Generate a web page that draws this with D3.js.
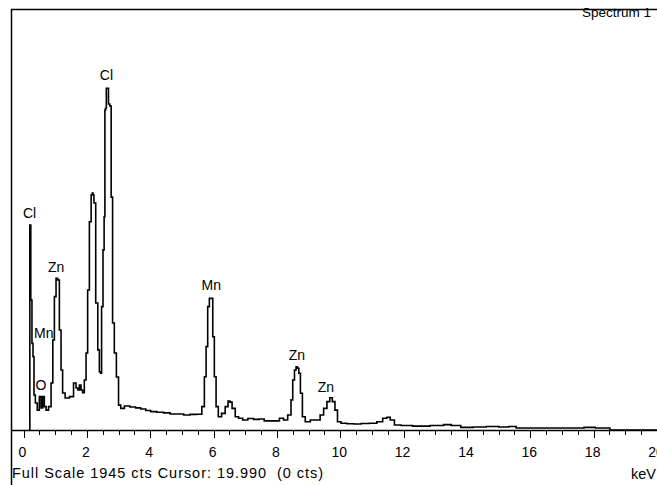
<!DOCTYPE html>
<html>
<head>
<meta charset="utf-8">
<script src="https://cdn.jsdelivr.net/npm/d3@7"></script>
<style>
  body { margin: 0; background: #fff; }
  svg { display: block; }
  text { font-family: "Liberation Sans", Arial, sans-serif; fill: #000; }
</style>
</head>
<body>
<svg></svg>
<script>
// spectrum: energy (keV) and counts
var energies = [0.19, 0.21, 0.25, 0.284, 0.316, 0.347, 0.40, 0.47, 0.53, 0.58, 0.63, 0.685, 0.74, 0.84, 0.90, 0.95, 1.00, 1.055, 1.105, 1.16, 1.21, 1.26, 1.37, 1.53, 1.63, 1.69, 1.74, 1.79, 1.84, 1.89, 1.95, 2.00, 2.05, 2.11, 2.16, 2.18, 2.21, 2.24, 2.32, 2.37, 2.42, 2.44, 2.49, 2.53, 2.56, 2.58, 2.60, 2.63, 2.665, 2.70, 2.75, 2.785, 2.84, 2.895, 2.97, 3.03, 3.11, 3.26, 3.46, 3.62, 3.78, 3.94, 4.09, 4.32, 4.53, 4.73, 4.95, 5.16, 5.36, 5.58, 5.68, 5.74, 5.79, 5.84, 5.895, 5.95, 6.00, 6.05, 6.11, 6.19, 6.315, 6.42, 6.495, 6.54, 6.63, 6.74, 6.84, 7.00, 7.16, 7.37, 7.51, 7.69, 8.00, 8.16, 8.26, 8.42, 8.47, 8.53, 8.58, 8.63, 8.67, 8.715, 8.77, 8.84, 8.95, 9.16, 9.31, 9.42, 9.53, 9.63, 9.71, 9.79, 9.875, 9.95, 10.10, 10.32, 10.53, 10.79, 11.05, 11.26, 11.42, 11.525, 11.63, 11.79, 12.05, 12.52, 13.15, 13.38, 13.63, 13.98, 14.42, 14.80, 15.21, 15.43, 15.68, 16.63, 17.51, 17.89, 18.21, 18.43, 18.59, 20.0];
var counts = [0, 947, 600, 400, 339, 162, 125, 92, 154, 102, 154, 108, 92, 108, 217, 416, 616, 701, 693, 462, 277, 171, 148, 154, 217, 194, 185, 208, 185, 172, 231, 356, 647, 962, 1086, 1095, 1086, 1049, 587, 370, 269, 262, 570, 832, 985, 1478, 1486, 1579, 1579, 1506, 1497, 1076, 494, 356, 245, 115, 100, 111, 106, 102, 97, 90, 85, 82, 79, 74, 74, 69, 72, 73, 108, 246, 385, 570, 608, 608, 431, 246, 108, 61, 77, 108, 134, 129, 100, 61, 54, 46, 53, 49, 51, 42, 42, 54, 46, 69, 139, 231, 277, 292, 285, 262, 170, 61, 38, 46, 46, 69, 100, 131, 149, 131, 92, 38, 31, 29, 28, 30, 31, 38, 54, 59, 46, 23, 21, 18, 21, 25, 21, 12, 14, 16, 14, 16, 9, 9, 9, 12, 9, 9, 0, 0];

// element markers: name, energy, height (cts) of the label
var peakNames = ["Cl", "Mn", "O", "Zn", "Cl", "Mn", "Zn", "Zn"];
var peakEnergies = [0.19, 0.64, 0.55, 1.03, 2.62, 5.93, 8.63, 9.55];
var peakLabelCounts = [979, 425, 185, 730, 1617, 647, 323, 175];

var xTicks = [0, 2, 4, 6, 8, 10, 12, 14, 16, 18, 20];
var fullScale = 1945;
var footerText = "Full Scale 1945 cts Cursor: 19.990  (0 cts)";
var titleText = "Spectrum 1";
var unitText = "keV";

var svgWidth = 657;
var svgHeight = 485;
var svg = d3.select("svg").attr("width", svgWidth).attr("height", svgHeight);

var data = energies.map(function (e, i) { return [e, counts[i]]; });

var xScale = d3.scaleLinear().domain([0, 20]).range([23.5, 657]);
var yScale = d3.scaleLinear().domain([0, fullScale]).range([430, 9]);

// frame
svg.append("path")
  .attr("d", "M11.5,490 V9.5 H660")
  .attr("fill", "none")
  .attr("stroke", "#000")
  .attr("stroke-width", 1.5);

// axis with major + minor ticks
var minorTicks = d3.range(0, 20.01, 0.5);
var axisG = svg.append("g").attr("transform", "translate(0," + yScale(0) + ")");
axisG.append("line")
  .attr("x1", 11).attr("x2", svgWidth)
  .attr("y1", 0.5).attr("y2", 0.5)
  .attr("stroke", "#000").attr("stroke-width", 1.5);
axisG.selectAll(".minor")
  .data(minorTicks)
  .enter().append("line")
  .attr("class", "minor")
  .attr("x1", function (d) { return Math.round(xScale(d)) + 0.5; })
  .attr("x2", function (d) { return Math.round(xScale(d)) + 0.5; })
  .attr("y1", 0)
  .attr("y2", function (d) { return d % 2 === 0 ? 8 : 5; })
  .attr("stroke", "#000");
axisG.selectAll(".tlabel")
  .data(xTicks)
  .enter().append("text")
  .attr("class", "tlabel")
  .attr("x", function (d) { return xScale(d) - 1; })
  .attr("y", 27)
  .attr("text-anchor", "middle")
  .style("font-size", "14px")
  .text(function (d) { return d; });

// spectrum trace
var line = d3.line()
  .x(function (d) { return xScale(d[0]); })
  .y(function (d) { return yScale(d[1]); })
  .curve(d3.curveStep);

svg.append("path")
  .datum(data)
  .attr("d", line)
  .attr("fill", "none")
  .attr("stroke", "#000")
  .attr("stroke-width", 1.6);

// element labels
svg.selectAll(".plabel")
  .data(peakNames)
  .enter().append("text")
  .attr("class", "plabel")
  .attr("x", function (d, i) { return xScale(peakEnergies[i]); })
  .attr("y", function (d, i) { return yScale(peakLabelCounts[i]); })
  .attr("text-anchor", "middle")
  .style("font-size", "14px")
  .text(function (d) { return d; });

svg.append("text")
  .attr("x", 651).attr("y", 17)
  .attr("text-anchor", "end")
  .style("font-size", "13.5px")
  .text(titleText);

svg.append("text")
  .attr("x", 12).attr("y", 478)
  .attr("textLength", 311)
  .attr("lengthAdjust", "spacing")
  .style("font-size", "14.5px")
  .style("white-space", "pre")
  .text(footerText);

svg.append("text")
  .attr("x", 656).attr("y", 479)
  .attr("text-anchor", "end")
  .style("font-size", "14.5px")
  .text(unitText);
</script>
</body>
</html>
